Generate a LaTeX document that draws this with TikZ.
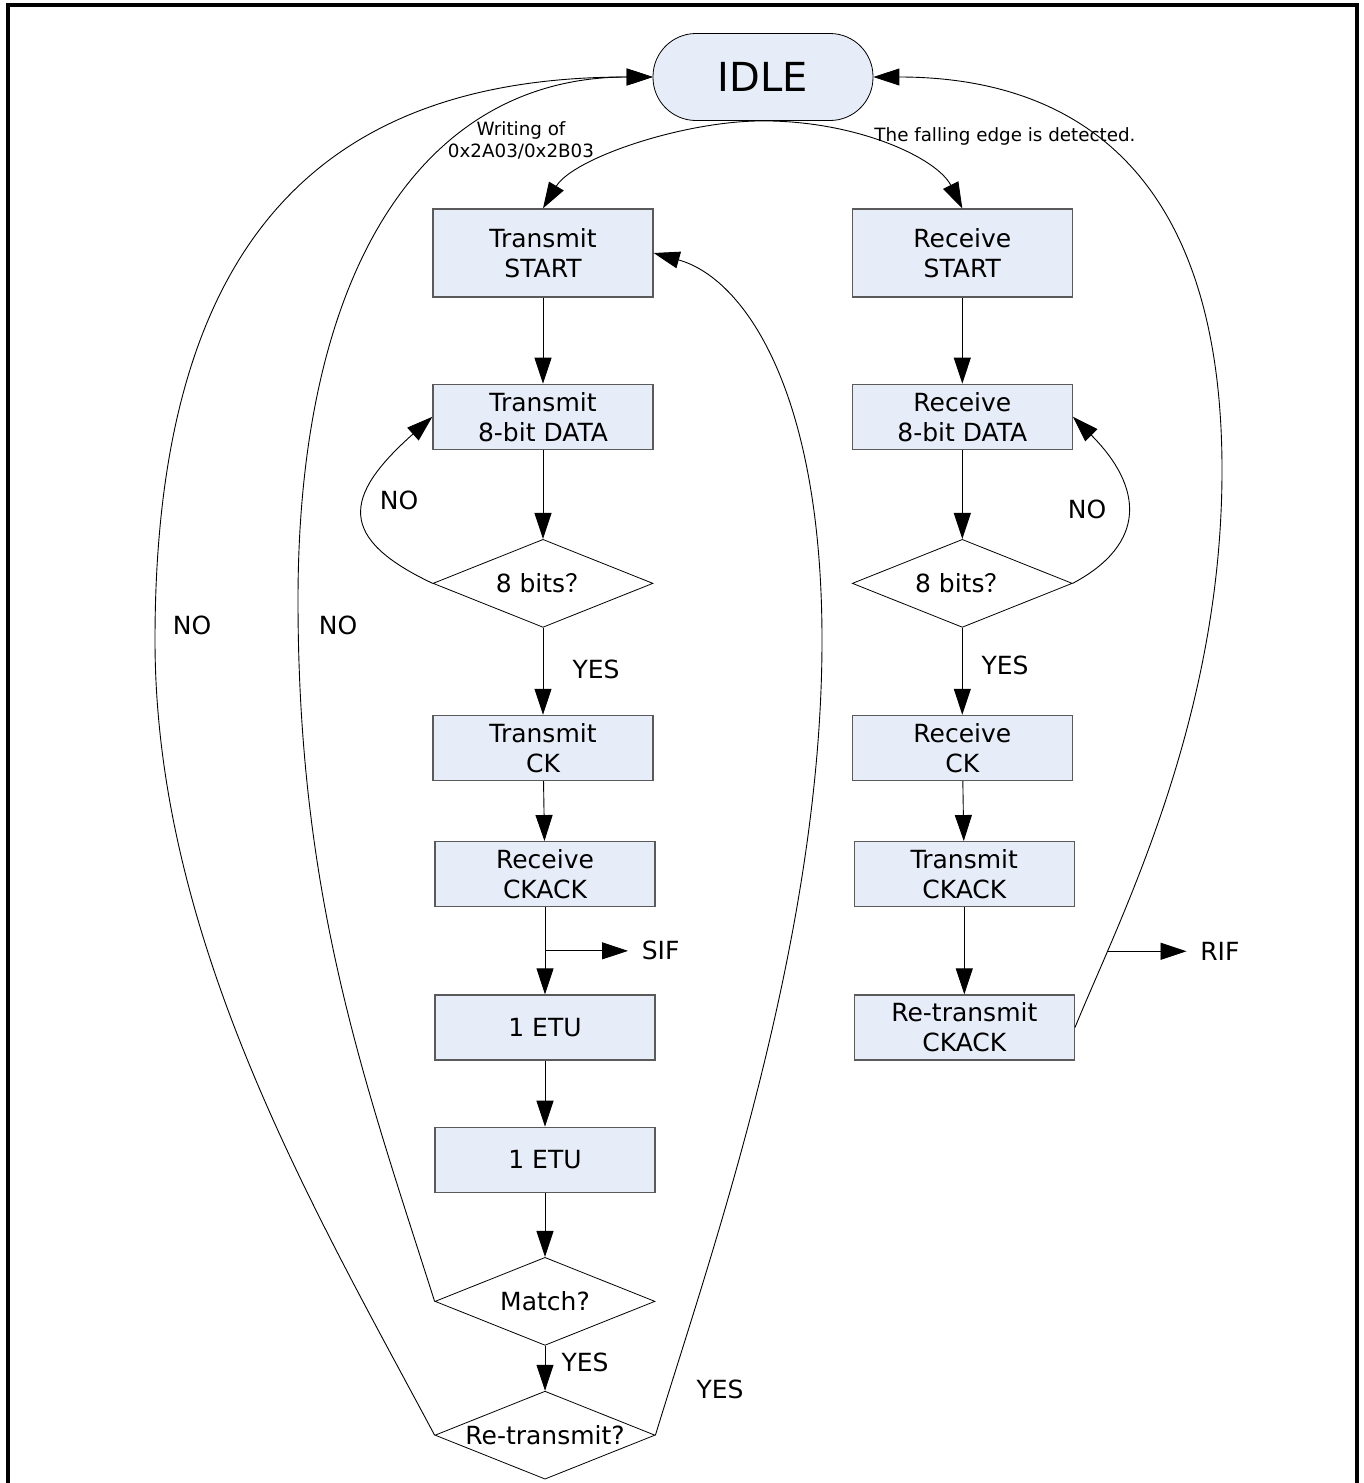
\documentclass[tikz,border=0pt]{standalone}
\usepackage{fontspec}
\setmainfont{DejaVu Sans}
\newfontfamily\cjk{Noto Sans CJK SC}
\usetikzlibrary{shapes.geometric,arrows.meta,positioning}
\definecolor{boxfill}{RGB}{231,237,248}
\definecolor{boxline}{RGB}{90,90,90}
\tikzset{
  statebox/.style={rectangle, draw=boxline, fill=boxfill, line width=1.3pt,
    minimum width=220pt, minimum height=65pt, align=center,
    font=\fontsize{25}{30}\selectfont},
  startbox/.style={statebox, minimum height=88pt},
  idlebox/.style={rectangle, rounded corners=43pt, draw, fill=boxfill,
    line width=0.8pt, minimum width=220pt, minimum height=87pt,
    font=\fontsize{40}{46}\selectfont},
  check/.style={diamond, draw, line width=0.8pt, aspect=2.5, inner sep=0pt,
    minimum width=220pt, minimum height=88pt,
    font=\fontsize{25}{30}\selectfont},
  arr/.style={-{Triangle[length=26pt,width=17pt]}, line width=0.9pt},
  lbl/.style={font=\fontsize{25}{30}\selectfont},
  note/.style={font=\fontsize{18.3}{22}\selectfont, align=center}
}

\begin{document}
\begin{tikzpicture}[x=1pt, y=-1pt, node distance=87pt]
\useasboundingbox (0,0) rectangle (1363,1483);

%% ── FRAME ──────────────────────────────────────────────────────────
\draw[line width=4pt] (8,1483) -- (8,5) -- (1357,5) -- (1357,1483);

%% ── IDLE ───────────────────────────────────────────────────────────
\node[idlebox] (idle) at (763,77) {IDLE};

%% ── COLUMN A: transmit side (left) ─────────────────────────────────
\node[startbox] (txstart) at (543,253) {Transmit\\START};
\node[statebox, below=86pt of txstart] (txdata) {Transmit\\8-bit DATA};
\node[check,    below=89pt of txdata]  (txchk)  {8 bits{\cjk ？}};
\node[statebox, below=of txchk]   (txck)   {Transmit\\CK};
\node[statebox, below=60pt of txck, xshift=2pt] (rxckack) {Receive\\CKACK};
\node[statebox, below=of rxckack] (etu1) {1 ETU};
\node[statebox, below=66pt of etu1] (etu2) {1 ETU};
\node[check,    below=64pt of etu2] (match) {Match?};
\node[check,    below=45pt of match] (retx) {Re-transmit?};

%% ── COLUMN B: receive side (right) ─────────────────────────────────
\node[startbox, right=198pt of txstart] (rxstart) {Receive\\START};
\node[statebox, below=86pt of rxstart] (rxdata) {Receive\\8-bit DATA};
\node[check,    below=89pt of rxdata]  (rxchk)  {8 bits{\cjk ？}};
\node[statebox, below=of rxchk]   (rxck)   {Receive\\CK};
\node[statebox, below=60pt of rxck, xshift=2pt] (txckack) {Transmit\\CKACK};
\node[statebox, below=of txckack] (retxckack) {Re-transmit\\CKACK};

%% ── LABELS ─────────────────────────────────────────────────────────
\node[note] (wlbl) at (521,140) {Writing of\\0x2A03/0x2B03};
\node[note] (flbl) at (1005,136) {The falling edge is detected.};
\node[lbl] (noout)  at (192,625)  {NO};
\node[lbl] (noin)   at (338,625)  {NO};
\node[lbl] (noltx)  at (399,500)  {NO};
\node[lbl] (norx)   at (1087,509) {NO};
\node[lbl] (yestx)  at (596,669)  {YES};
\node[lbl] (yesrx)  at (1005,665) {YES};
\node[lbl] (yesm)   at (585,1362) {YES};
\node[lbl] (yesr)   at (720,1389) {YES};

%% ── ARROWS: from IDLE ──────────────────────────────────────────────
\draw[arr] (idle.south) .. controls +(-80,0) and +(30,-50) .. (txstart.north);
\draw[arr] (idle.south) .. controls +(95,0) and +(-25,-50) .. (rxstart.north);

%% ── ARROWS: Column A ───────────────────────────────────────────────
\draw[arr] (txstart) -- (txdata);
\draw[arr] (txdata) -- (txchk);
\draw[arr] (txchk) -- (txck);
\draw[arr] (txck) -- (rxckack);
\draw[arr] (rxckack) -- coordinate[midway] (sifpt) (etu1);
\draw[arr] (etu1) -- (etu2);
\draw[arr] (etu2) -- (match);
\draw[arr] (match) -- (retx);
\draw[arr] (txchk.west) .. controls +(-95,-45) and +(-90,80) .. (txdata.west);
\draw[arr] (sifpt) -- ++(83,0) node[lbl, right=10pt] (sif) {SIF};

%% ── ARROWS: Column B ───────────────────────────────────────────────
\draw[arr] (rxstart) -- (rxdata);
\draw[arr] (rxdata) -- (rxchk);
\draw[arr] (rxchk) -- (rxck);
\draw[arr] (rxck) -- (txckack);
\draw[arr] (txckack) -- (retxckack);
\draw[arr] (rxchk.east) .. controls +(75,-40) and +(70,70) .. (rxdata.east);

%% ── LONG LOOPS ─────────────────────────────────────────────────────
\coordinate (obend) at (155,640);
\coordinate (ibend) at (298,600);
\coordinate (rbend) at (1222,470);
\coordinate (ybend) at (822,640);

% re-transmit? NO -> IDLE
\draw[arr] (retx.west) .. controls +(-120,-225) and +(0,300) .. (obend)
  .. controls +(0,-400) and +(-330,0) .. (idle.west);
% match? NO -> IDLE
\draw[arr] (match.west) .. controls +(-70,-220) and +(0,300) .. (ibend)
  .. controls +(0,-330) and +(-230,0) .. (idle.west);
% re-transmit? YES -> transmit start
\draw[arr] (retx.east) .. controls +(55,-180) and +(0,300) .. (ybend)
  .. controls +(0,-250) and +(90,25) .. (txstart.east);
% receive side back to IDLE
\draw[arr] (retxckack.east) .. controls +(45,-110) and +(0,250)
  .. coordinate[pos=0.2] (rifpt) (rbend)
  .. controls +(0,-300) and +(200,0) .. (idle.east);
\draw[arr] (rifpt) -- ++(79,0) node[lbl, right=10pt] (rif) {RIF};

\end{tikzpicture}
\end{document}
